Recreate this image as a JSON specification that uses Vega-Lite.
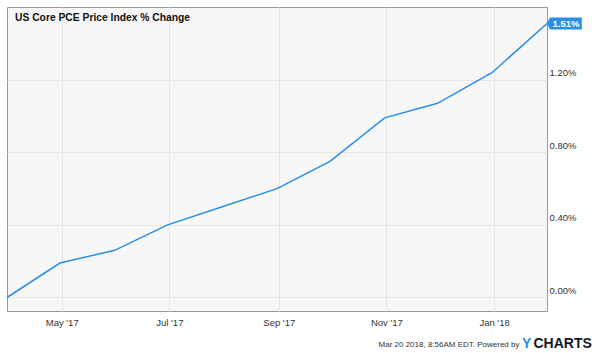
{
  "$schema": "https://vega.github.io/schema/vega-lite/v6.json",
  "width": 540,
  "height": 304,
  "autosize": {"type": "none"},
  "padding": {"left": 7, "top": 7, "right": 53, "bottom": 42},
  "background": "white",
  "title": {
    "text": "US Core PCE Price Index % Change",
    "orient": "top",
    "anchor": "start",
    "frame": "group",
    "offset": 0,
    "dx": 8,
    "dy": 24.5,
    "baseline": "alphabetic",
    "font": "Liberation Sans",
    "fontSize": 10.3,
    "fontWeight": "bold",
    "color": "#111"
  },
  "data": {
    "values": [
      {"date": "2017-03-31", "value": 0.0000},
      {"date": "2017-04-30", "value": 0.0019},
      {"date": "2017-05-31", "value": 0.0026},
      {"date": "2017-06-30", "value": 0.0040},
      {"date": "2017-07-31", "value": 0.0050},
      {"date": "2017-08-31", "value": 0.0060},
      {"date": "2017-09-30", "value": 0.0075},
      {"date": "2017-10-31", "value": 0.0099},
      {"date": "2017-11-30", "value": 0.0107},
      {"date": "2017-12-31", "value": 0.0124},
      {"date": "2018-01-31", "value": 0.0151}
    ],
    "format": {"parse": {"date": "date:'%Y-%m-%d'"}}
  },
  "resolve": {"axis": {"y": "independent"}},
  "layer": [
    {
      "mark": {"type": "line", "color": "#2a8fe6", "strokeWidth": 1.5, "clip": true},
      "encoding": {
        "x": {
          "field": "date",
          "type": "temporal",
          "scale": {
            "domain": [{"year": 2017, "month": 3, "date": 31}, {"year": 2018, "month": 1, "date": 31}],
            "nice": false
          },
          "axis": {
            "values": [
              {"year": 2017, "month": 5, "date": 1},
              {"year": 2017, "month": 7, "date": 1},
              {"year": 2017, "month": 9, "date": 1},
              {"year": 2017, "month": 11, "date": 1},
              {"year": 2018, "month": 1, "date": 1}
            ],
            "format": "%b '%y",
            "labelFont": "Liberation Sans",
            "labelFontSize": 9.5,
            "labelColor": "#333",
            "labelPadding": 6,
            "ticks": false,
            "domain": false,
            "grid": true,
            "gridColor": "#e6e6e6",
            "title": "Mar 20 2018, 8:56AM EDT.  Powered by",
            "titleFont": "Liberation Sans",
            "titleFontSize": 8,
            "titleFontWeight": "normal",
            "titleColor": "#333",
            "titleAlign": "right",
            "titleBaseline": "alphabetic",
            "titleX": 512,
            "titleY": 35.7
          }
        },
        "y": {
          "field": "value",
          "type": "quantitative",
          "scale": {"domain": [-0.000744, 0.016006], "nice": false, "zero": false},
          "axis": {
            "orient": "right",
            "values": [0, 0.004, 0.008, 0.012],
            "format": ".2%",
            "labelFont": "Liberation Sans",
            "labelFontSize": 9.5,
            "labelColor": "#333",
            "labelPadding": 2,
            "labelOffset": -7,
            "ticks": false,
            "domain": false,
            "grid": true,
            "gridColor": "#e6e6e6",
            "title": "CHARTS",
            "titleFont": "Liberation Sans",
            "titleFontSize": 14,
            "titleFontWeight": "bold",
            "titleColor": "#16161f",
            "titleAngle": 0,
            "titleAlign": "left",
            "titleBaseline": "alphabetic",
            "titleX": -14,
            "titleY": 340
          }
        }
      }
    },
    {
      "transform": [
        {"window": [{"op": "rank", "as": "r"}], "sort": [{"field": "date", "order": "descending"}]},
        {"filter": "datum.r === 1"}
      ],
      "mark": {
        "type": "point",
        "shape": "M0,0 L0.5,-1 L5.8,-1 L5.8,1 L0.5,1 Z",
        "size": 144,
        "filled": true,
        "opacity": 1,
        "color": "#2a8fe6",
        "strokeWidth": 0,
        "clip": false
      },
      "encoding": {
        "x": {"field": "date", "type": "temporal"},
        "y": {
          "field": "value",
          "type": "quantitative",
          "axis": {
            "orient": "right",
            "labels": false,
            "ticks": false,
            "domain": false,
            "grid": false,
            "title": "Y",
            "titleFont": "Liberation Sans",
            "titleFontSize": 14,
            "titleFontWeight": "bold",
            "titleColor": "#2a8fe6",
            "titleAngle": 0,
            "titleAlign": "left",
            "titleBaseline": "alphabetic",
            "titleX": -25.5,
            "titleY": 340
          }
        }
      }
    },
    {
      "transform": [
        {"window": [{"op": "rank", "as": "r"}], "sort": [{"field": "date", "order": "descending"}]},
        {"filter": "datum.r === 1"}
      ],
      "mark": {
        "type": "text",
        "dx": 19,
        "dy": 0.5,
        "align": "center",
        "baseline": "middle",
        "font": "Liberation Sans",
        "fontSize": 9.5,
        "fontWeight": "bold",
        "color": "white",
        "clip": false
      },
      "encoding": {
        "x": {"field": "date", "type": "temporal"},
        "y": {"field": "value", "type": "quantitative", "axis": null},
        "text": {"field": "value", "type": "quantitative", "format": ".2%"}
      }
    }
  ],
  "config": {
    "font": "Liberation Sans",
    "view": {"fill": "#f7f7f7", "stroke": "#999", "strokeWidth": 1}
  }
}
